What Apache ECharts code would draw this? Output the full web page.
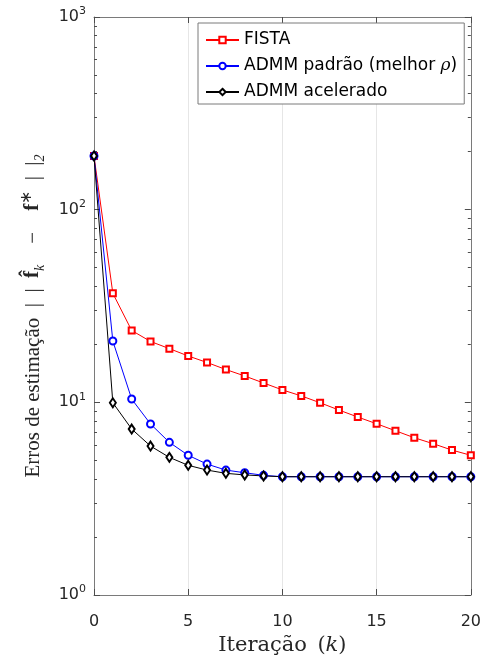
<!DOCTYPE html>
<html>
<head>
<meta charset="utf-8">
<script src="https://cdn.jsdelivr.net/npm/echarts@6/dist/echarts.min.js"></script>
<style>
  html, body { margin: 0; padding: 0; background: #ffffff; }
  #chart { width: 484px; height: 662px; }
</style>
</head>
<body>
<div id="chart"></div>
<script>
// Iteration index k
const iterations = [0, 1, 2, 3, 4, 5, 6, 7, 8, 9, 10, 11, 12, 13, 14, 15, 16, 17, 18, 19, 20];

// Estimation error ||f_k - f*||_2 per method
const fistaErr = [190, 36.8, 23.6, 20.7, 19.0, 17.4, 16.1, 14.8, 13.7, 12.6, 11.6,
                  10.8, 9.95, 9.12, 8.39, 7.74, 7.12, 6.55, 6.10, 5.65, 5.31];
const admmPadraoErr = [190, 20.8, 10.4, 7.72, 6.20, 5.31, 4.78, 4.45, 4.31, 4.18, 4.11,
                       4.11, 4.11, 4.11, 4.11, 4.11, 4.11, 4.11, 4.11, 4.11, 4.11];
const admmAceleradoErr = [190, 9.95, 7.27, 5.93, 5.18, 4.71, 4.45, 4.28, 4.20, 4.15, 4.11,
                          4.11, 4.11, 4.11, 4.11, 4.11, 4.11, 4.11, 4.11, 4.11, 4.11];

const seriesNames = ['FISTA', 'ADMM padrão (melhor ρ)', 'ADMM acelerado'];

// Axis ticks
const xTicks = [0, 5, 10, 15, 20];
const yMajorTicks = [1, 10, 100, 1000];
const yMinorTicks = [2, 3, 4, 5, 6, 7, 8, 9,
                     20, 30, 40, 50, 60, 70, 80, 90,
                     200, 300, 400, 500, 600, 700, 800, 900];

const BOX = '#7a7a7a';
const TICK = '#4d4d4d';
const TXT = '#262626';
const SANS = '"DejaVu Sans", "Liberation Sans", sans-serif';
const SERIF = '"Liberation Serif", serif';

function pairs(values) {
  return iterations.map((k, i) => [k, values[i]]);
}

function xAxisCfg(position, withLabels) {
  return {
    type: 'value', position, min: 0, max: 20, interval: 5,
    axisLine: { show: true, onZero: false, lineStyle: { color: BOX, width: 1 } },
    axisTick: { show: true, inside: true, length: 6, lineStyle: { color: TICK }, customValues: xTicks },
    axisLabel: {
      show: withLabels, customValues: xTicks, margin: 19,
      fontFamily: SANS, fontSize: 16, color: TXT
    },
    splitLine: { show: withLabels, lineStyle: { color: '#e6e6e6', width: 1 } }
  };
}

function yAxisCfg(position, minor, withLabels) {
  return {
    type: 'log', logBase: 10, min: 1, max: 1000, position,
    axisLine: { show: !minor, onZero: false, lineStyle: { color: BOX, width: 1 } },
    axisTick: {
      show: true, inside: true, length: minor ? 3 : 6,
      lineStyle: { color: TICK },
      customValues: minor ? yMinorTicks : yMajorTicks
    },
    axisLabel: {
      show: withLabels, customValues: yMajorTicks, margin: 8,
      formatter: v => '{b|10}{s|' + Math.round(Math.log10(v)) + '}',
      rich: {
        b: { fontFamily: SANS, fontSize: 16, color: TXT, lineHeight: 22 },
        s: { fontFamily: SANS, fontSize: 11, color: TXT, lineHeight: 11, verticalAlign: 'top' }
      }
    },
    splitLine: { show: false },
    minorTick: { show: false }
  };
}

// y-axis title: "Erros de estimação || f̂_k − f* ||_2"
const yName = {
  text: '{r|Erros de estimação\u2002|\u2002|\u2002}{b|f\u0302}{k|k}{r|\u2003\u2212\u2003}{b|f}{p|\u2217}{r|\u2002|\u2002|}{k|2}',
  rich: {
    r: { fontFamily: SERIF, fontSize: 21, color: TXT, lineHeight: 28 },
    b: { fontFamily: SERIF, fontSize: 21, fontWeight: 'bold', color: TXT, lineHeight: 28 },
    k: { fontFamily: SERIF, fontSize: 14, fontStyle: 'italic', color: TXT, lineHeight: 14, verticalAlign: 'bottom' },
    p: { fontFamily: SERIF, fontSize: 16, color: TXT, lineHeight: 16, verticalAlign: 'top' }
  }
};

const chart = echarts.init(document.getElementById('chart'), null, { renderer: 'canvas' });

const yLeft = yAxisCfg('left', false, true);
yLeft.name = yName.text;
yLeft.nameLocation = 'middle';
yLeft.nameRotate = 90;
yLeft.nameGap = 47;
yLeft.nameTextStyle = { rich: yName.rich, padding: [0, 20, 0, 0] };

const xBottom = xAxisCfg('bottom', true);
xBottom.name = '{r|Iteração\u2002(}{i|k}{r|)}';
xBottom.nameLocation = 'middle';
xBottom.nameGap = 39;
xBottom.nameTextStyle = {
  rich: {
    r: { fontFamily: '"DejaVu Serif", serif', fontSize: 21, color: TXT },
    i: { fontFamily: '"DejaVu Serif", serif', fontSize: 21, fontStyle: 'italic', color: TXT }
  }
};

const option = {
  animation: false,
  backgroundColor: '#ffffff',
  grid: { left: 94, right: 11, top: 17, bottom: 67, containLabel: false },
  xAxis: [xBottom, xAxisCfg('top', false)],
  yAxis: [
    yLeft,
    yAxisCfg('left', true, false),
    yAxisCfg('right', false, false),
    yAxisCfg('right', true, false)
  ],
  legend: {
    orient: 'vertical',
    left: 198, top: 23,
    padding: [7, 7, 2, 7],
    itemGap: 6,
    itemWidth: 33,
    itemHeight: 8,
    backgroundColor: '#ffffff',
    borderColor: BOX,
    borderWidth: 1,
    borderRadius: 0,
    data: seriesNames,
    formatter: name => name.indexOf('ρ') >= 0
      ? '{t|ADMM padrão (melhor }{g|ρ}{t|)}'
      : '{t|' + name + '}',
    textStyle: {
      fontFamily: SANS, fontSize: 17, color: '#000', lineHeight: 20,
      rich: {
        t: { fontFamily: SANS, fontSize: 17, color: '#000', lineHeight: 20 },
        g: { fontFamily: '"DejaVu Serif", serif', fontSize: 17, fontStyle: 'italic', color: '#000', lineHeight: 20 }
      }
    }
  },
  series: [
    {
      name: seriesNames[0], type: 'line', data: pairs(fistaErr),
      symbol: 'emptyRect', symbolSize: 6,
      lineStyle: { color: '#ff0000', width: 1 },
      itemStyle: { color: '#ff0000', borderWidth: 1 }
    },
    {
      name: seriesNames[1], type: 'line', data: pairs(admmPadraoErr),
      symbol: 'emptyCircle', symbolSize: 7,
      lineStyle: { color: '#0000ff', width: 1 },
      itemStyle: { color: '#0000ff', borderWidth: 1 }
    },
    {
      name: seriesNames[2], type: 'line', data: pairs(admmAceleradoErr),
      symbol: 'emptyDiamond', symbolSize: [6, 9],
      lineStyle: { color: '#000000', width: 1 },
      itemStyle: { color: '#000000', borderWidth: 1 }
    }
  ]
};

chart.setOption(option);
</script>
</body>
</html>
